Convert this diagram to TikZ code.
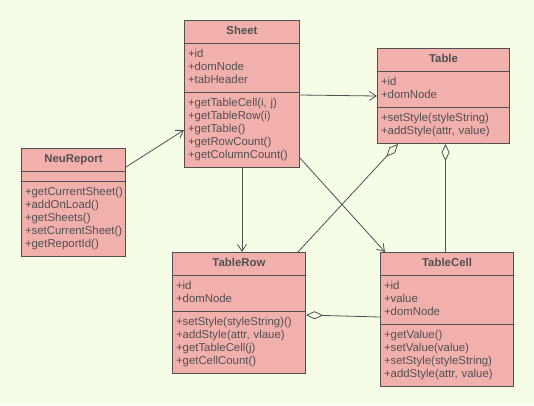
\documentclass[tikz,border=0pt]{standalone}
\usepackage{fontspec}
\setmainfont{Liberation Sans}
\usetikzlibrary{shapes.multipart,arrows.meta,calc}
\definecolor{bgcol}{RGB}{246,253,230}
\definecolor{boxcol}{RGB}{242,176,172}
\definecolor{inkcol}{RGB}{80,80,80}
\tikzset{font={\fontsize{11.4pt}{13pt}\selectfont}}
\newcommand{\clsname}[1]{\makebox[\linewidth]{\textbf{#1}}\strut}

\begin{document}
\begin{tikzpicture}[x=1pt,y=-1pt,
umlclass/.style={rectangle split, rectangle split parts=3, draw=inkcol, fill=boxcol, line width=1pt,
  anchor=north west, inner xsep=3.5pt, inner ysep=4.5pt, align=left, text=inkcol},
depends/.style={draw=inkcol, line width=0.8pt, -{Straight Barb[length=7pt,width=9pt]}},
holds/.style={draw=inkcol, line width=0.8pt, {Diamond[length=17pt,width=8pt,fill=bgcol]}-}
]
\path[use as bounding box, fill=bgcol] (0,0) rectangle (534,405);

% classes
\node[umlclass, text width=108pt] (sheet) at (184,20) {\clsname{Sheet}
\nodepart{second}\strut+id\\+domNode\\+tabHeader\strut
\nodepart{third}\strut+getTableCell(i, j)\\+getTableRow(i)\\+getTable()\\+getRowCount()\\+getColumnCount()\strut};
\node[umlclass, text width=125pt] (table) at (377,48) {\clsname{Table}
\nodepart{second}\strut+id\\+domNode\strut
\nodepart{third}\strut+setStyle(styleString)\\+addStyle(attr, value)\strut};
\node[umlclass, text width=97pt] (neureport) at (21,148) {\clsname{NeuReport}
\nodepart{second}
\nodepart{third}\strut+getCurrentSheet()\\+addOnLoad()\\+getSheets()\\+setCurrentSheet()\\+getReportId()\strut};
\node[umlclass, text width=126pt] (tablerow) at (172,252) {\clsname{TableRow}
\nodepart{second}\strut+id\\+domNode\strut
\nodepart{third}\strut+setStyle(styleString)()\\+addStyle(attr, vlaue)\\+getTableCell(j)\\+getCellCount()\strut};
\node[umlclass, text width=126pt] (tablecell) at (380,252) {\clsname{TableCell}
\nodepart{second}\strut+id\\+value\\+domNode\strut
\nodepart{third}\strut+getValue()\\+setValue(value)\\+setStyle(styleString)\\+addStyle(attr, value)\strut};

% associations
\draw[depends] ($(neureport.north east)+(0,19)$) -- ($(sheet.north west)+(0,110)$);
\draw[depends] ($(sheet.north east)+(0,75)$) -- ($(table.north west)+(0,48)$);
\draw[depends] (sheet.south) -- (sheet.south |- tablerow.north);
\draw[depends] ($(sheet.south east)+(0,-10)$) -- ($(tablecell.north west)+(5,0)$);

% aggregations
\draw[holds] ($(table.south west)+(21,0)$) -- ($(tablerow.north east)+(-8,0)$);
\draw[holds] ($(table.south)+(2,0)$) -- ($(tablecell.north)+(-1.5,0)$);
\draw[holds] ($(tablerow.north east)+(0,63)$) -- ($(tablecell.north west)+(0,65)$);
\end{tikzpicture}
\end{document}
